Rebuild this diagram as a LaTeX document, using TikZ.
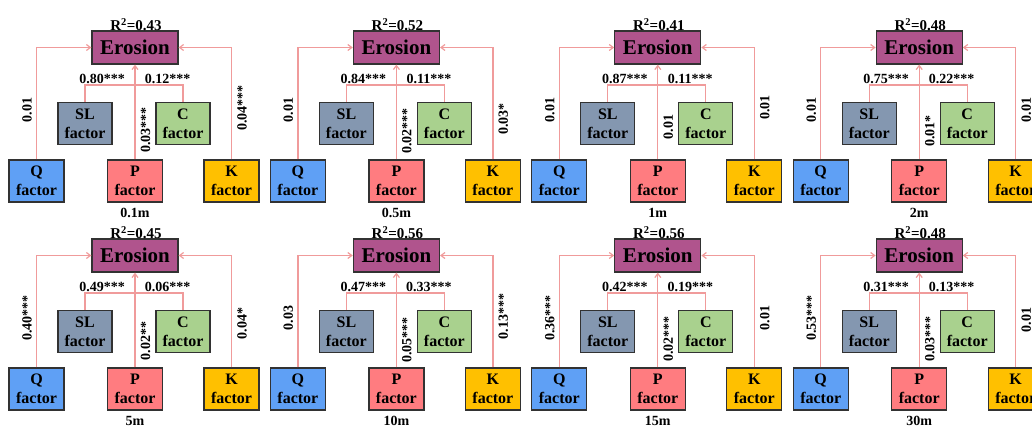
\documentclass[tikz,border=0pt]{standalone}
\usepackage{fontspec}
\setmainfont{Liberation Serif}
\usetikzlibrary{arrows.meta}
\definecolor{erosionc}{RGB}{176,84,141}
\definecolor{slc}{RGB}{132,151,176}
\definecolor{cc}{RGB}{169,209,142}
\definecolor{qc}{RGB}{95,160,245}
\definecolor{pc}{RGB}{255,124,128}
\definecolor{kc}{RGB}{255,192,0}
\definecolor{linec}{RGB}{240,155,155}
\definecolor{edgec}{RGB}{50,50,50}
\begin{document}
\begin{tikzpicture}[x=1pt,y=-1pt,
  box/.style={draw=edgec,line width=1.2pt,minimum width=54pt,minimum height=42pt,inner sep=0pt,align=center,
    font=\fontsize{16}{19}\selectfont\bfseries},
  erbox/.style={draw=edgec,line width=1.2pt,fill=erosionc,minimum width=86pt,minimum height=33pt,inner sep=0pt,
    font=\fontsize{21}{24}\selectfont\bfseries},
  conn/.style={draw=linec,line width=1.2pt,-{Straight Barb[length=4pt,width=6pt]}},
  link/.style={draw=linec,line width=1.2pt},
  lbl/.style={inner sep=0pt,font=\fontsize{14}{16}\selectfont\bfseries},
  rlbl/.style={inner sep=0pt,font=\fontsize{15}{17}\selectfont\bfseries}]
\useasboundingbox (0,0) rectangle (1032,426);
\clip (0,0) rectangle (1032,426);
\foreach \n/\x/\y/\R/\sl/\c/\q/\p/\k/\lab/\py/\ky in {
  1/0/0/0.43/0.80***/0.12***/0.01/0.03***/0.04***/0.1m/130/108,
  2/261.4/0/0.52/0.84***/0.11***/0.01/0.02***/0.03*/0.5m/131/119,
  3/522.8/0/0.41/0.87***/0.11***/0.01/0.01/0.01/1m/127/107.5,
  4/784.2/0/0.48/0.75***/0.22***/0.01/0.01*/0.01/2m/131/110,
  5/0/208/0.45/0.49***/0.06***/0.40***/0.02**/0.04*/5m/133/115.5,
  6/261.4/208/0.56/0.47***/0.33***/0.03/0.05***/0.13***/10m/132/108.5,
  7/522.8/208/0.56/0.42***/0.19***/0.36***/0.02***/0.01/15m/131/110,
  8/784.2/208/0.48/0.31***/0.13***/0.53***/0.03***/0.01/30m/131/112}{
\begin{scope}[shift={(\x,\y)}]
  \node[erbox] (e\n) at (135,47.5) {Erosion};
  \node[box,fill=slc] (sl\n) at (85,123.5) {SL\\factor};
  \node[box,fill=cc] (c\n) at (183,123.5) {C\\factor};
  \node[box,fill=qc,minimum width=55pt] (q\n) at (36.5,181) {Q\\factor};
  \node[box,fill=pc,minimum width=55pt] (p\n) at (135,181) {P\\factor};
  \node[box,fill=kc,minimum width=55pt] (k\n) at (231.5,181) {K\\factor};
  \coordinate (b\n) at (135,85);
  \draw[link] (sl\n.north) |- (b\n) -| (c\n.north);
  \draw[conn] (q\n.north) |- (e\n.west);
  \draw[conn] (k\n.north) |- (e\n.east);
  \draw[conn] (p\n.north) -- (e\n.south);
  \node[rlbl] (r\n) at (136,24.5) {R\textsuperscript{2}=\R};
  \node[lbl] (ls\n) at (102,79) {\sl};
  \node[lbl] (lc\n) at (167.5,79) {\c};
  \node[lbl,rotate=90] (lq\n) at (27,110) {\q};
  \node[lbl,rotate=90] (lp\n) at (145.5,\py) {\p};
  \node[lbl,rotate=90] (lk\n) at (242,\ky) {\k};
  \node[lbl] (t\n) at (135,212.5) {\lab};
\end{scope}}
\end{tikzpicture}
\end{document}
